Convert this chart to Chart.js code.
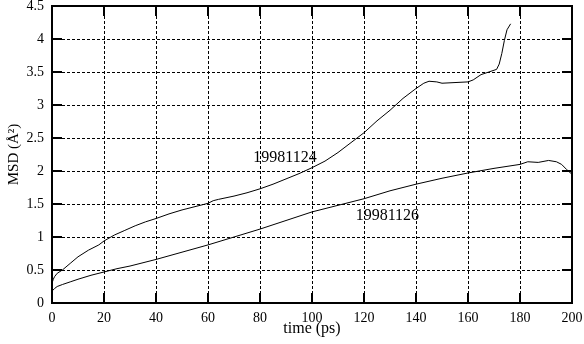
<!DOCTYPE html>
<html>
<head>
<meta charset="utf-8">
<script src="https://cdn.jsdelivr.net/npm/chart.js@4"></script>
<style>
html, body { margin: 0; padding: 0; background: #fff; }
#wrap { width: 584px; height: 344px; }
</style>
</head>
<body>
<div id="wrap"><canvas id="msd"></canvas></div>
<script>
// run 19981124
const time1124 = [0, 0.5, 1, 2, 4, 7, 10, 14, 18, 20, 24, 28, 32, 36, 40, 45, 50, 55, 60, 62, 64, 70, 75, 80, 85, 90, 95, 100, 105, 110, 115, 120, 125, 130, 135, 140, 143, 145, 148, 150, 155, 160, 162, 165, 168, 171, 172, 173, 174, 175, 176.4];
const msd1124 = [0.3, 0.36, 0.4, 0.45, 0.5, 0.6, 0.7, 0.8, 0.88, 0.94, 1.03, 1.1, 1.17, 1.23, 1.28, 1.35, 1.41, 1.46, 1.51, 1.55, 1.57, 1.62, 1.67, 1.73, 1.8, 1.88, 1.96, 2.05, 2.15, 2.28, 2.43, 2.58, 2.76, 2.92, 3.1, 3.25, 3.33, 3.36, 3.35, 3.33, 3.34, 3.35, 3.38, 3.46, 3.5, 3.54, 3.62, 3.78, 3.98, 4.14, 4.23];

// run 19981126
const time1126 = [0, 1, 2, 4, 7, 10, 15, 20, 25, 30, 35, 40, 50, 60, 70, 80, 90, 100, 110, 120, 130, 140, 150, 160, 170, 180, 183, 187, 191, 194, 196, 198, 200];
const msd1126 = [0.18, 0.22, 0.25, 0.28, 0.32, 0.36, 0.42, 0.47, 0.52, 0.56, 0.61, 0.66, 0.77, 0.88, 1.0, 1.12, 1.25, 1.38, 1.48, 1.58, 1.7, 1.8, 1.89, 1.97, 2.04, 2.1, 2.14, 2.13, 2.16, 2.14, 2.1, 2.02, 1.95];

const xTicks = [0, 20, 40, 60, 80, 100, 120, 140, 160, 180, 200];
const yTicks = [0, 0.5, 1, 1.5, 2, 2.5, 3, 3.5, 4, 4.5];

// where the run names sit, in data units
const runNames = ['19981124', '19981126'];
const nameX = [89.6, 129];
const nameY = [2.2, 1.32];

const serif = '"Liberation Serif", "DejaVu Serif", serif';

function toPoints(xs, ys) {
    return xs.map((x, i) => ({ x: x, y: ys[i] }));
}

// frame, inward ticks on all four sides, and run names
const framePlugin = {
    id: 'frame',
    afterDraw(chart) {
        const ctx = chart.ctx;
        const a = chart.chartArea;
        const xs = chart.scales.x;
        const ys = chart.scales.y;
        ctx.save();
        ctx.strokeStyle = '#000';
        ctx.lineWidth = 2;
        ctx.strokeRect(a.left, a.top, a.right - a.left, a.bottom - a.top);
        ctx.beginPath();
        xTicks.forEach(v => {
            const px = xs.getPixelForValue(v);
            ctx.moveTo(px, a.bottom); ctx.lineTo(px, a.bottom - 10);
            ctx.moveTo(px, a.top); ctx.lineTo(px, a.top + 10);
        });
        yTicks.forEach(v => {
            const py = ys.getPixelForValue(v);
            ctx.moveTo(a.left, py); ctx.lineTo(a.left + 10, py);
            ctx.moveTo(a.right, py); ctx.lineTo(a.right - 10, py);
        });
        ctx.stroke();

        ctx.fillStyle = '#000';
        ctx.font = '16px ' + serif;
        ctx.textAlign = 'center';
        ctx.textBaseline = 'middle';
        runNames.forEach((name, i) => {
            ctx.fillText(name, xs.getPixelForValue(nameX[i]), ys.getPixelForValue(nameY[i]));
        });
        ctx.restore();
    }
};

new Chart(document.getElementById('msd'), {
    type: 'line',
    data: {
        datasets: [
            { label: '19981124', data: toPoints(time1124, msd1124) },
            { label: '19981126', data: toPoints(time1126, msd1126) }
        ]
    },
    options: {
        responsive: true,
        maintainAspectRatio: false,
        animation: false,
        layout: { padding: { top: 6, right: 12, left: 0, bottom: 0 } },
        elements: {
            point: { radius: 0 },
            line: { borderColor: '#000', borderWidth: 1, tension: 0 }
        },
        plugins: {
            legend: { display: false },
            tooltip: { enabled: false }
        },
        scales: {
            x: {
                type: 'linear',
                min: 0,
                max: 200,
                afterBuildTicks: s => { s.ticks = xTicks.map(v => ({ value: v })); },
                afterFit: s => { s.height = 41; s.paddingLeft = 0; s.paddingRight = 0; },
                grid: { color: '#000', lineWidth: 1, drawTicks: false },
                border: { display: false, dash: [3, 2] },
                ticks: { color: '#000', padding: 7, maxRotation: 0, font: { family: serif, size: 14 } },
                title: { display: true, text: 'time (ps)', color: '#000', padding: { top: 0, bottom: 6 }, font: { family: serif, size: 16 } }
            },
            y: {
                type: 'linear',
                min: 0,
                max: 4.5,
                afterBuildTicks: s => { s.ticks = yTicks.map(v => ({ value: v })); },
                afterFit: s => { s.width = 52; s.paddingTop = 0; s.paddingBottom = 0; },
                grid: { color: '#000', lineWidth: 1, drawTicks: false },
                border: { display: false, dash: [3, 2] },
                ticks: { color: '#000', padding: 8, callback: v => String(v), font: { family: serif, size: 14 } },
                title: { display: true, text: 'MSD (Å²)', color: '#000', padding: { top: 5, bottom: 0 }, font: { family: serif, size: 15 } }
            }
        }
    },
    plugins: [framePlugin]
});
</script>
</body>
</html>
